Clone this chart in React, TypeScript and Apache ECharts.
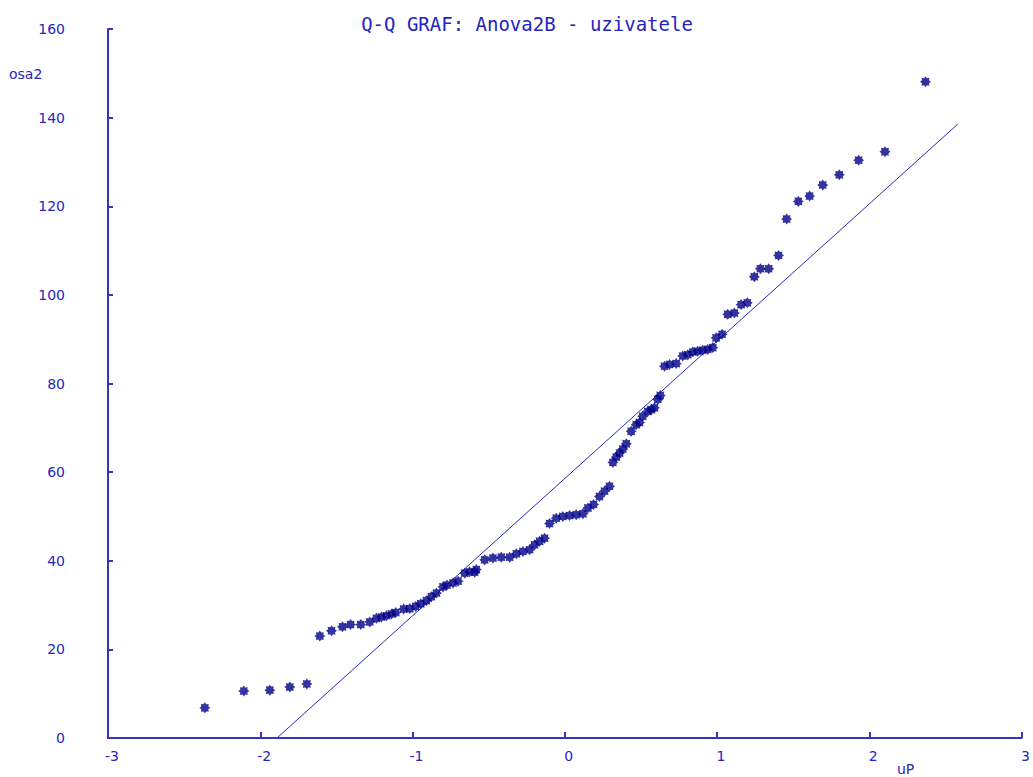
import React, { useEffect, useRef } from "react";
import * as echarts from "echarts";

const titleText = "Q-Q GRAF: Anova2B - uzivatele";
const yAxisName = "osa2";
const xAxisName = "uP";

// Quantiles (uP) and observed values (osa2)
const quantX = [
  -2.364, -2.108, -1.937, -1.806, -1.694, -1.609, -1.532, -1.46, -1.407, -1.34,
  -1.281, -1.237, -1.204, -1.171, -1.138, -1.11, -1.058, -1.018, -0.979, -0.946,
  -0.909, -0.876, -0.843, -0.8, -0.774, -0.734, -0.701, -0.657, -0.625, -0.592,
  -0.581, -0.526, -0.472, -0.417, -0.362, -0.318, -0.275, -0.231, -0.198, -0.165,
  -0.133, -0.1, -0.056, -0.013, 0.031, 0.075, 0.119, 0.152, 0.189, 0.228,
  0.261, 0.294, 0.316, 0.338, 0.36, 0.381, 0.404, 0.436, 0.469, 0.491,
  0.512, 0.545, 0.568, 0.589, 0.611, 0.627, 0.655, 0.688, 0.732, 0.775,
  0.808, 0.841, 0.873, 0.906, 0.939, 0.972, 0.994, 1.033, 1.07, 1.114,
  1.158, 1.199, 1.245, 1.285, 1.339, 1.404, 1.457, 1.534, 1.608, 1.694,
  1.803, 1.93, 2.103, 2.369,
];
const quantY = [
  6.8, 10.6, 10.8, 11.5, 12.2, 23.0, 24.2, 25.1, 25.6, 25.6,
  26.2, 27.0, 27.3, 27.6, 28.0, 28.3, 29.1, 29.2, 29.7, 30.3,
  31.0, 31.9, 32.7, 34.1, 34.5, 35.0, 35.4, 37.2, 37.5, 37.4,
  38.0, 40.2, 40.6, 40.8, 40.8, 41.6, 42.1, 42.5, 43.6, 44.4,
  45.1, 48.4, 49.6, 50.0, 50.2, 50.4, 50.6, 51.9, 52.7, 54.5,
  55.7, 56.8, 62.2, 63.4, 64.3, 65.2, 66.4, 69.2, 70.7, 71.2,
  72.6, 73.7, 74.1, 74.5, 76.4, 77.3, 83.9, 84.3, 84.5, 86.2,
  86.5, 87.1, 87.3, 87.5, 87.7, 88.1, 90.3, 91.1, 95.6, 95.9,
  97.8, 98.2, 104.1, 105.9, 105.9, 108.9, 117.1, 121.1, 122.3, 124.8,
  127.1, 130.4, 132.3, 148.1,
];

// Reference line
const lineX = [-1.89, 2.58];
const lineY = [0, 138.5];

const xTicks = [-3, -2, -1, 0, 1, 2, 3];
const yTicks = [0, 20, 40, 60, 80, 100, 120, 140, 160];

const starPath =
  "path://M10,5 L8.2,6.3 L8.54,8.54 L6.3,8.2 L5,10 L3.7,8.2 L1.46,8.54 L1.8,6.3 L0,5 L1.8,3.7 L1.46,1.46 L3.7,1.8 L5,0 L6.3,1.8 L8.54,1.46 L8.2,3.7 Z";

const axisColor = "#3434c4";
const textColor = "#2626bf";

export default function App() {
  const ref = useRef<HTMLDivElement>(null);

  useEffect(() => {
    if (!ref.current) return;
    const chart = echarts.init(ref.current, undefined, { renderer: "svg" });
    const scatterData = quantX.map((x, i) => [x, quantY[i]]);
    const lineData = lineX.map((x, i) => [x, lineY[i]]);
    chart.setOption({
      animation: false,
      backgroundColor: "#ffffff",
      title: {
        text: titleText,
        left: 522,
        top: 9,
        textAlign: "center",
        textStyle: {
          fontFamily: "DejaVu Sans Mono",
          fontSize: 19,
          fontWeight: "normal",
          color: "#2424c0",
        },
      },
      grid: { left: 108, right: 10, top: 29, bottom: 39, containLabel: false },
      xAxis: {
        type: "value",
        min: xTicks[0],
        max: xTicks[xTicks.length - 1],
        interval: 1,
        axisLine: { show: true, onZero: false, lineStyle: { color: axisColor, width: 2 } },
        axisTick: { show: true, inside: true, length: 6, lineStyle: { color: axisColor, width: 2 } },
        splitLine: { show: false },
        axisLabel: {
          color: textColor,
          fontFamily: "DejaVu Sans",
          fontSize: 14,
          margin: 11,
          padding: [0, 0, 0, 8],
        },
      },
      yAxis: {
        type: "value",
        min: yTicks[0],
        max: yTicks[yTicks.length - 1],
        interval: 20,
        axisLine: { show: true, onZero: false, lineStyle: { color: axisColor, width: 2 } },
        axisTick: { show: true, inside: true, length: 5, lineStyle: { color: axisColor, width: 2 } },
        splitLine: { show: false },
        axisLabel: {
          color: textColor,
          fontFamily: "DejaVu Sans",
          fontSize: 14,
          margin: 43,
        },
      },
      graphic: [
        {
          type: "text",
          left: 9,
          top: 67,
          style: { text: yAxisName, fill: textColor, font: "14px 'DejaVu Sans'" },
        },
        {
          type: "text",
          left: 897,
          top: 762,
          style: { text: xAxisName, fill: textColor, font: "14px 'DejaVu Sans'" },
        },
      ],
      series: [
        {
          type: "line",
          data: lineData,
          symbol: "none",
          lineStyle: { color: "#2a2ab8", width: 1 },
          z: 2,
        },
        {
          type: "scatter",
          data: scatterData,
          symbol: starPath,
          symbolSize: 11,
          itemStyle: { color: "#000088" },
          z: 3,
        },
      ],
    });
    return () => chart.dispose();
  }, []);

  return (
    <div
      ref={ref}
      style={{ position: "absolute", left: 0, top: 0, width: 1033, height: 777 }}
    />
  );
}
